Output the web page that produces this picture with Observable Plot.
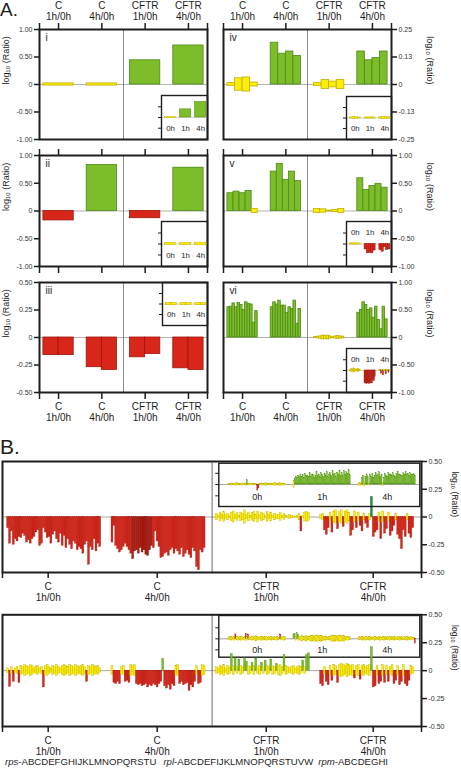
<!DOCTYPE html>
<html><head><meta charset="utf-8">
<script src="https://cdn.jsdelivr.net/npm/d3@7"></script>
<script src="https://cdn.jsdelivr.net/npm/@observablehq/plot@0.6"></script>
<style>
html,body{margin:0;padding:0;background:#fff;}
#page{position:relative;width:461px;height:769px;overflow:hidden;font-family:"Liberation Sans",Arial,Helvetica,sans-serif;color:#1e1e1e;}
#page svg{position:absolute;left:0;top:0;}
.big{position:absolute;left:0;line-height:1;}
#genes{position:absolute;left:5px;top:757px;font-size:9.6px;line-height:10px;white-space:nowrap;}
</style></head><body><div id="page"></div>
<script>
// ---------------- DATA ----------------
const categories = ["C\n1h/0h", "C\n4h/0h", "CFTR\n1h/0h", "CFTR\n4h/0h"];
const timepoints = ["0h", "1h", "4h"];
const romans = ["i", "ii", "iii", "iv", "v", "vi"];
const yLabel = "log\u2081\u2080 (Ratio)";
const ticksFull = [1, 0.5, 0, -0.5, -1];
const ticksFullLabels = ["1.00", "0.50", "0", "-0.50", "-1.00"];
const ticksQuarter = [0.25, 0.125, 0, -0.125, -0.25];
const ticksQuarterLabels = ["0.25", "0.13", "0", "-0.13", "-0.25"];
const ticksHalf = [0.5, 0.25, 0, -0.25, -0.5];
const ticksHalfLabels = ["0.50", "0.25", "0", "-0.25", "-0.50"];
const rpsGenes = "ABCDEFGHIJKLMNOPQRSTU";
const rplGenes = "ABCDEFIJKLMNOPQRSTUVW";
const rpmGenes = "ABCDEGHI";

// class codes: r = down (red), R = dark red, g = up (green), G = dark green, y = not significant (yellow, +/- box)
// Panel A (per group: C 1h/0h, C 4h/0h, CFTR 1h/0h, CFTR 4h/0h)
const panelI = [[0.02], [0.02], [0.44], [0.71]];
const panelIClass = ["y", "y", "g", "g"];
const panelII = [[-0.17], [0.83], [-0.13], [0.78]];
const panelIIClass = ["r", "g", "r", "g"];
const panelIII = [[-0.16, -0.16], [-0.27, -0.295], [-0.18, -0.15], [-0.28, -0.295]];
const panelIIIClass = ["rr", "rr", "rr", "rr"];
const panelIV = [[0.006, 0.028, 0.032, 0.009], [0.19, 0.14, 0.15, 0.13], [0.006, 0.02, 0.013, 0.021], [0.15, 0.11, 0.12, 0.15]];
const panelIVClass = ["yyyy", "gggg", "yyyy", "gggg"];
const panelV = [[0.32, 0.35, 0.32, 0.36, 0.036], [0.71, 0.85, 0.56, 0.71, 0.54], [0.035, 0.03, 0.008, 0.02, 0.035], [0.59, 0.38, 0.45, 0.49, 0.42]];
const panelVClass = ["ggggy", "ggggg", "yyyyy", "ggggg"];
const panelVI = [
  [0.55, 0.56, 0.62, 0.55, 0.63, 0.59, 0.50, 0.64, 0.61, 0.60, 0.27, 0.48],
  [0.55, 0.64, 0.60, 0.67, 0.58, 0.58, 0.45, 0.55, 0.52, 0.67, 0.25, 0.52],
  [0.01, 0.015, 0.02, 0.035, 0.03, 0.035, 0.02, 0.005, 0.02, 0.025, 0.02, 0.015],
  [0.45, 0.50, 0.64, 0.59, 0.50, 0.53, 0.36, 0.56, 0.32, 0.15, 0.56, 0.33]];
const panelVIClass = ["gggggggggggg", "gggggggggggg", "yyyyyyyyyyyy", "gggggggggggg"];

// Insets of panel A (0h, 1h, 4h), arbitrary units
const insetI = [[0.05], [0.76], [1.45]];
const insetIClass = ["y", "g", "g"];
const insetII = [[0.1], [0.1], [0.12]];
const insetIIClass = ["y", "y", "y"];
const insetIII = [[0.12, 0.12], [0.12, 0.1], [0.12, 0.12]];
const insetIIIClass = ["yy", "yy", "yy"];
const insetIV = [[0.05, 0.08, 0.08, 0.05], [0.05, 0.06, 0.06, 0.05], [0.08, 0.1, 0.1, 0.08]];
const insetIVClass = ["yyyy", "yyyy", "yyyy"];
const insetV = [[0.05, 0.06, 0.06, 0.05, 0.05], [-0.5, -0.85, -0.8, -0.85, -0.6], [-0.55, -0.7, -0.3, -0.55, -0.5]];
const insetVClass = ["yyyyy", "rrrrr", "rrrrr"];
const insetVI = [
  [0.05, 0.1, 0.15, 0.1, 0.2, 0.15, 0.1, 0.05, 0.1, 0.15, 0.1, 0.05],
  [-1.2, -1.2, -1.25, -1.2, -1.2, -1.25, -1.2, -1.15, -1.2, -0.9, -1.0, -0.6],
  [0.05, 0.08, -0.3, 0.05, -0.45, 0.06, 0.05, -0.35, 0.05, 0.06, -0.2, 0.05]];
const insetVIClass = ["yyyyyyyyyyyy", "rrrrrrrrrrrr", "yyryryyryyry"];

// Panel B, upper chart (50 genes per group)
const bTopC1h = [-0.10,-0.24,-0.13,-0.25,-0.20,-0.22,-0.18,-0.19,-0.15,-0.17,
  -0.23,-0.21,-0.24,-0.20,-0.18,-0.14,-0.12,-0.26,-0.24,-0.10,
  -0.14,-0.19,-0.18,-0.24,-0.16,-0.13,-0.20,-0.23,-0.15,-0.26,
  -0.17,-0.28,-0.20,-0.25,-0.29,-0.22,-0.24,-0.30,-0.27,-0.29,
  -0.33,-0.25,-0.22,-0.43,-0.27,-0.30,-0.20,-0.31,-0.24,-0.27];
const bTopC1hClass = "rrrrrrrrrr rrrrrrrrrr rrrrrrrrrr rrrrrrrrrr rrrrrrrrrr";
const bTopC4h = [-0.23,-0.08,-0.26,-0.29,-0.32,-0.30,-0.27,-0.24,-0.27,-0.30,
  -0.33,-0.38,-0.31,-0.30,-0.33,-0.28,-0.32,-0.30,-0.34,-0.35,
  -0.30,-0.26,-0.28,-0.13,-0.22,-0.27,-0.37,-0.36,-0.33,-0.32,
  -0.35,-0.30,-0.28,-0.33,-0.29,-0.31,-0.34,-0.28,-0.36,-0.33,
  -0.30,-0.34,-0.37,-0.28,-0.31,-0.45,-0.48,-0.30,-0.32,-0.28];
const bTopC4hClass = "rrrrrrrrrr rRRRRRRRRR RRrrrrrrrr rrrrrrrrrr rrrrrrrrrr";
const bTopCFTR1h = [0.03,0.01,0.04,0.02,0.045,0.015,0.03,0.01,0.04,0.05,
  0.02,0.035,0.01,0.04,0.03,0.06,0.02,0.04,0.01,0.035,
  0.045,0.02,0.05,0.015,0.04,0.03,0.01,0.045,0.02,0.04,
  0.01,0.03,0.015,0.02,0.035,0.01,0.025,0.01,0.005,0.02,
  0.01,0.005,0.005,0.01,0.03,-0.13,0.01,0.04,0.045,0.035];
const bTopCFTR1hClass = "yyyyyyyyyy yyyyyyyyyy yyyyyyyyyy yyyyyyyyyy yyyyyryyyy";
const bTopCFTR4h = [0.02,0.03,-0.12,-0.16,-0.10,0.04,-0.14,0.05,0.06,-0.11,
  0.05,0.06,-0.09,0.05,0.06,0.04,-0.17,-0.12,0.05,-0.10,
  0.04,-0.08,-0.13,0.03,-0.06,-0.10,0.03,0.18,-0.18,-0.14,
  -0.12,0.04,-0.20,0.05,-0.15,-0.11,0.04,-0.17,-0.13,-0.08,
  0.03,-0.16,-0.20,-0.29,-0.12,-0.18,0.03,-0.15,-0.19,-0.10];
const bTopCFTR4hClass = "yyrrryryyr yyryyyrryr yrryrryGrr ryryrryrrr yrrrrryrrr";
// inset of upper chart (0h, 1h, 4h)
const bTopInset0h = [0.05,0.08,0.05,0.1,0.06,0.05,0.08,0.12,0.06,0.05,
  0.08,0.05,0.1,0.06,0.05,0.1,0.4,0.08,0.05,0.06,
  0.1,0.05,0.08,0.06,0.05,-0.55,-0.35,0.08,0.05,0.1,
  0.06,0.05,0.1,0.12,0.08,0.05,0.06,0.1,0.05,0.08,
  0.12,0.1,0.06,0.08,0.1,0.12,0.08,0.1,0.06,0.05];
const bTopInset0hClass = "yyyyyyyyyy yyyyyygyyy yyyyyrryyy yyyyyyyyyy yyyyyyyyyy";
const bTopInset1h = [0.3,0.55,0.7,0.6,0.8,0.65,0.9,0.7,0.85,0.6,
  0.95,0.75,0.8,0.65,1.0,0.7,0.85,0.9,0.6,0.8,
  1.1,0.75,0.9,0.7,1.0,0.85,0.65,0.95,0.8,1.15,
  0.7,0.9,1.0,0.75,1.2,0.85,0.95,0.7,1.05,0.9,
  1.25,0.8,1.0,0.75,1.2,0.9,1.1,0.95,1.3,0.85];
const bTopInset1hClass = "yggggggggg gggggggggg gggggggggg gggggggggg gggggggggg";
const bTopInset4h = [0.1,0.15,0.1,0.6,0.8,0.2,0.7,0.9,0.65,0.1,
  0.85,0.7,0.95,0.6,0.8,1.0,0.75,0.9,1.1,0.7,
  0.85,0.15,0.6,0.95,0.8,0.7,1.05,0.85,0.9,0.75,
  1.0,0.8,0.7,0.95,1.15,0.85,0.9,0.8,0.75,1.0,
  0.9,1.1,0.85,0.95,0.8,1.0,0.9,0.85,0.95,0.8];
const bTopInset4hClass = "yyyggygggy gggggggggg gygggggggg gggggggggg gggggggggg";

// Panel B, lower chart
const bBotC1h = [0.02,-0.145,0.03,-0.10,0.02,0.03,-0.11,0.04,0.03,0.05,
  0.04,0.03,0.05,0.04,0.02,0.03,0.04,0.02,0.03,-0.15,
  0.04,0.05,0.03,0.02,0.04,0.03,0.05,0.03,0.02,0.04,
  0.05,0.04,0.03,0.05,0.04,0.03,0.05,0.04,0.03,0.04,
  0.05,0.03,-0.10,0.04,0.03,0.05,0.04,0.03,0.04,0.02];
const bBotC1hClass = "yryryyryyy yyyyyyyyyr yyyyyyyyyy yyyyyyyyyy yyryyyyyyy";
const bBotC4h = [0.04,-0.11,-0.12,-0.10,-0.12,0.03,0.04,-0.10,-0.09,-0.11,
  0.05,0.04,0.05,-0.12,-0.13,-0.12,-0.14,-0.13,-0.12,-0.15,
  -0.13,-0.14,-0.12,-0.13,-0.15,-0.12,-0.10,0.105,-0.14,-0.16,
  -0.13,-0.17,-0.12,-0.14,0.04,0.05,-0.12,-0.10,-0.13,-0.12,
  -0.11,-0.18,-0.13,-0.15,-0.10,0.04,-0.12,-0.11,0.05,0.04];
const bBotC4hClass = "yrrrryyrrr yyyrrrrrrr rrrrrrrgrr rrrryyrrrr rrrrryrryy";
const bBotCFTR1h = [0.03,0.02,0.04,0.03,0.05,0.02,0.04,0.03,0.15,0.04,
  0.11,0.03,0.10,0.04,0.03,0.11,0.08,0.04,0.03,0.07,
  0.04,0.11,0.03,0.04,0.07,0.03,0.09,0.04,0.03,0.10,
  0.04,0.03,0.06,0.04,0.05,0.03,0.14,0.04,0.03,0.02,
  0.03,0.04,0.02,0.03,0.04,0.03,0.09,0.03,0.14,0.155];
const bBotCFTR1hClass = "yyyyyyyygy gygyyggyyg ygyygygyyg yygyyygyyy yyyyyygygg";
const bBotCFTR4h = [-0.12,-0.14,0.03,-0.10,-0.13,0.04,-0.09,0.05,0.04,-0.11,
  0.05,0.06,0.05,0.04,0.06,0.05,0.04,0.05,-0.07,0.04,
  0.05,-0.08,0.04,0.05,0.03,0.04,0.05,0.21,-0.15,-0.14,
  0.04,-0.12,-0.10,0.05,-0.11,0.04,-0.10,0.03,0.05,-0.12,
  -0.09,0.04,-0.13,-0.10,0.05,-0.12,-0.14,-0.09,0.04,0.03];
const bBotCFTR4hClass = "rryrryryyr yyyyyyyyry yryyyyygrr yrryryryyr ryrryrrryy";
const bBotInset0h = [0.1,0.15,0.2,0.15,0.1,0.2,0.4,0.15,0.2,0.1,
  0.15,0.2,0.15,0.1,0.2,0.45,0.2,0.4,0.15,0.1,
  0.2,0.15,0.1,0.2,0.25,0.2,0.15,0.1,0.2,0.15,
  0.2,0.1,0.15,0.2,0.1,0.15,0.1,0.2,0.15,0.1,
  0.15,0.1,0.2,0.15,0.1,0.4,0.15,0.1,0.2,0.15];
const bBotInset0hClass = "yyyyyyryyy yyyyyryryy yyyyyyyyyy yyyyyyyyyy yyyyyryyyy";
const bBotInset1h = [0.4,0.45,0.2,0.5,0.35,0.2,0.15,0.25,0.2,0.15,
  0.2,0.25,0.2,0.15,0.2,0.25,0.3,0.25,0.2,0.3,
  0.25,0.3,0.2,0.25,0.3,0.25,0.2,0.15,0.2,0.15,
  0.1,0.15,0.2,0.25,0.3,0.25,0.3,0.25,0.2,0.25,
  0.3,0.25,0.2,0.25,0.3,0.2,0.15,0.2,0.1,0.15];
const bBotInset1hClass = "ggyggyyyyy yyyyyyyyyy yyyyyyyyyy yyyyyyyyyy yyyyyyyyyy";
const bBotInset4h = [0.1,0.15,0.1,0.2,0.15,0.1,0.2,0.15,0.1,0.15,
  0.2,0.1,0.15,0.1,0.2,0.15,0.1,0.1,0.15,0.2,
  0.1,0.15,0.2,0.1,0.15,0.1,0.15,0.2,0.1,0.15,
  0.1,0.2,0.15,0.1,0.15,0.1,0.2,0.1,0.15,0.1,
  0.15,0.1,0.2,0.15,0.1,0.1,0.15,0.1,0.1,-0.45];
const bBotInset4hClass = "yyyyyyyyyy yyyyyyyyyy yyyyyyyyyy yyyyyyyyyy yyyyyyyyyr";

// ---------------- STYLE / LAYOUT ----------------
const W = 461, H = 769;
const INK = "#1e1e1e";
const FONT = '"Liberation Sans", Arial, Helvetica, sans-serif';
const COLORS = {
  r: {fill: "#d8261b", stroke: "#9e140b"},
  R: {fill: "#ad1a10", stroke: "#7a0d06"},
  g: {fill: "#7dbd2a", stroke: "#4d8a17"},
  G: {fill: "#1f8b3f", stroke: "#12652b"},
  y: {fill: "#fcee0a", stroke: "#bfae00"}
};
const page = document.getElementById("page");
const clean = s => s.replace(/\s/g, "");

function bar(x1, x2, v, c) {
  return c === "y" ? {x1, x2, y1: -Math.abs(v), y2: Math.abs(v), c} : {x1, x2, y1: 0, y2: v, c};
}
function groupedBars(groupVals, groupCls, width, offset) {
  const out = [];
  groupVals.forEach((arr, g) => {
    const w = width / arr.length;
    arr.forEach((v, j) => {
      const x1 = g + offset - width / 2 + j * w;
      out.push(bar(x1, x1 + w, v, groupCls[g][j]));
    });
  });
  return out;
}
function seriesBars(series, classes, start) {
  const cl = clean(classes);
  return series.map((v, j) => bar(start + j, start + j + 1, v, cl[j]));
}
function rects(data, sw) {
  return Plot.rect(data, {x1: "x1", x2: "x2", y1: "y1", y2: "y2",
    fill: d => COLORS[d.c].fill, stroke: d => COLORS[d.c].stroke, strokeWidth: sw});
}
function yAxis(anchor, ticks, labels, size) {
  const m = new Map(ticks.map((t, i) => [t, labels[i]]));
  return Plot.axisY({anchor, ticks, tickFormat: d => m.get(d) ?? "", tickSize: size ?? 5,
    tickPadding: 2, fontSize: 7, strokeWidth: 1.5, label: null, fill: "#333"});
}
function draw(box, xDomain, yDomain, marks, xAxisNull) {
  const svg = Plot.plot({
    width: W, height: H,
    marginLeft: box[0], marginRight: W - box[1], marginTop: box[2], marginBottom: H - box[3],
    x: {domain: xDomain, label: null, ...(xAxisNull ? {axis: null} : {})},
    y: {domain: yDomain, label: null},
    color: {type: "identity"},
    style: {background: "transparent", overflow: "visible", fontFamily: FONT, fontSize: "7px", color: INK},
    marks
  });
  page.appendChild(svg);
}

// ---------------- PANEL A ----------------
const AX = [-0.44, 3.44];
const catMap = new Map(categories.map((c, i) => [i, c]));
function panelA({box, yDomain, yTicks, yLabels, side, vals, cls, roman, top, bottom}) {
  const xt = [AX[0], 0, 1, 2, 3, AX[1]];
  const marks = [
    Plot.ruleY([0], {stroke: "#b3b3b3", strokeWidth: 1}),
    Plot.ruleX([1.5], {stroke: "#8c8c8c", strokeWidth: 1}),
    rects(groupedBars(vals, cls, 0.7, 0), 0.8),
    Plot.frame({stroke: INK, strokeWidth: 2}),
    yAxis(side, yTicks, yLabels),
    Plot.text([roman], {text: d => d, frameAnchor: "top-left", dx: 6, dy: 4, fontSize: 10, fill: INK}),
    Plot.text([yLabel], {text: d => d, frameAnchor: side, dx: side === "left" ? -33 : 38,
      rotate: side === "left" ? -90 : 90, fontSize: 9, fill: INK})
  ];
  if (top) marks.push(Plot.axisX({anchor: "top", ticks: xt,
    tickFormat: d => top === "labels" ? (catMap.get(d) ?? "") : "",
    tickSize: 7, tickPadding: 3, fontSize: 10, lineHeight: 1.05, strokeWidth: 1.5, label: null}));
  if (bottom) marks.push(Plot.axisX({anchor: "bottom", ticks: xt,
    tickFormat: d => bottom === "labels" ? (catMap.get(d) ?? "") : "",
    tickSize: 7, tickPadding: 3, fontSize: 10, lineHeight: 1.1, strokeWidth: 1.5, label: null}));
  draw(box, AX, yDomain, marks);
}
function insetA({box, vals, cls, labels}) {
  const marks = [
    Plot.ruleY([0], {stroke: "#c8c8c8", strokeWidth: 0.8}),
    rects(groupedBars(vals, cls, 0.75, 0.55), 0.5),
    Plot.frame({stroke: INK, strokeWidth: 1.4}),
    Plot.axisY({anchor: "left", ticks: [-1, 0, 1], tickFormat: () => "", tickSize: 3, strokeWidth: 1, label: null}),
    Plot.text(timepoints, {x: (d, i) => i + 0.55, text: d => d, frameAnchor: labels,
      lineAnchor: "middle", dy: labels === "bottom" ? -11 : 11, fontSize: 7.8, fill: INK})
  ];
  draw(box, [-0.05, 3], [-2.05, 2.05], marks, true);
}

const L = [39, 207], R = [223, 391];
const R1 = [29, 139], R2 = [155, 266], R3 = [282, 392];
panelA({box: [...L, ...R1], yDomain: [-1, 1], yTicks: ticksFull, yLabels: ticksFullLabels, side: "left",
  vals: panelI, cls: panelIClass, roman: romans[0], top: "labels"});
panelA({box: [...L, ...R2], yDomain: [-1, 1], yTicks: ticksFull, yLabels: ticksFullLabels, side: "left",
  vals: panelII, cls: panelIIClass, roman: romans[1], top: "ticks", bottom: "ticks"});
panelA({box: [...L, ...R3], yDomain: [-0.5, 0.5], yTicks: ticksHalf, yLabels: ticksHalfLabels, side: "left",
  vals: panelIII, cls: panelIIIClass, roman: romans[2], bottom: "labels"});
panelA({box: [...R, ...R1], yDomain: [-0.25, 0.25], yTicks: ticksQuarter, yLabels: ticksQuarterLabels, side: "right",
  vals: panelIV, cls: panelIVClass, roman: romans[3], top: "labels"});
panelA({box: [...R, ...R2], yDomain: [-1, 1], yTicks: ticksFull, yLabels: ticksFullLabels, side: "right",
  vals: panelV, cls: panelVClass, roman: romans[4], top: "ticks", bottom: "ticks"});
panelA({box: [...R, ...R3], yDomain: [-1, 1], yTicks: ticksFull, yLabels: ticksFullLabels, side: "right",
  vals: panelVI, cls: panelVIClass, roman: romans[5], bottom: "labels"});

insetA({box: [161, 207, 95, 139], vals: insetI, cls: insetIClass, labels: "bottom"});
insetA({box: [161, 207, 221, 266], vals: insetII, cls: insetIIClass, labels: "bottom"});
insetA({box: [162, 207, 282, 325], vals: insetIII, cls: insetIIIClass, labels: "bottom"});
insetA({box: [346, 391, 96, 139], vals: insetIV, cls: insetIVClass, labels: "bottom"});
insetA({box: [346, 391, 221, 266], vals: insetV, cls: insetVClass, labels: "top"});
insetA({box: [346, 391, 348, 392], vals: insetVI, cls: insetVIClass, labels: "top"});

// ---------------- PANEL B ----------------
const BX = [0, 222.9];
const bGroupStart = g => 2.5 + 55.5 * g;
const bTickPos = [24.3, 82.3, 140.3, 197.2];
const bTickMap = new Map(bTickPos.map((p, i) => [p, categories[i]]));
const BIX = [0, 175];
const bInsetStart = g => 8.4 + 56.6 * g;

function chartB({box, series, classes}) {
  const data = series.flatMap((s, g) => seriesBars(s, classes[g], bGroupStart(g)));
  const marks = [
    Plot.ruleY([0], {stroke: "#a8a8a8", strokeWidth: 1}),
    Plot.ruleX([111.5], {stroke: "#6a6a6a", strokeWidth: 1}),
    rects(data, 0.35),
    Plot.frame({stroke: INK, strokeWidth: 2}),
    yAxis("right", ticksHalf, ticksHalfLabels),
    Plot.axisX({anchor: "bottom", ticks: [BX[0], ...bTickPos, BX[1]], tickFormat: d => bTickMap.get(d) ?? "",
      tickSize: 6, tickPadding: 3, fontSize: 10, lineHeight: 1.15, strokeWidth: 1.5, label: null}),
    Plot.text([yLabel], {text: d => d, frameAnchor: "right", dx: 33, rotate: 90, fontSize: 8.5, fill: INK})
  ];
  draw(box, BX, [-0.5, 0.5], marks);
}
function insetB({box, yDomain, series, classes, labelDy}) {
  const data = series.flatMap((s, g) => seriesBars(s, classes[g], bInsetStart(g)));
  const marks = [
    Plot.ruleY([0], {stroke: "#8a8a8a", strokeWidth: 0.8}),
    rects(data, 0.25),
    Plot.frame({stroke: INK, strokeWidth: 1.4}),
    Plot.axisY({anchor: "left", ticks: [-1, 0, 1], tickFormat: () => "", tickSize: 3, strokeWidth: 1, label: null}),
    Plot.text(timepoints, {x: (d, i) => bInsetStart(i) + 25, text: d => d, frameAnchor: "bottom",
      lineAnchor: "middle", dy: labelDy, fontSize: 9, fill: INK})
  ];
  draw(box, BIX, yDomain, marks, true);
}

chartB({box: [2, 421, 461, 572],
  series: [bTopC1h, bTopC4h, bTopCFTR1h, bTopCFTR4h],
  classes: [bTopC1hClass, bTopC4hClass, bTopCFTR1hClass, bTopCFTR4hClass]});
insetB({box: [218.3, 419.3, 462.7, 506], yDomain: [-1.95, 1.9],
  series: [bTopInset0h, bTopInset1h, bTopInset4h],
  classes: [bTopInset0hClass, bTopInset1hClass, bTopInset4hClass], labelDy: -9.3});

insetB({box: [218.3, 419.3, 615, 656.7], yDomain: [-1.67, 2.12],
  series: [bBotInset0h, bBotInset1h, bBotInset4h],
  classes: [bBotInset0hClass, bBotInset1hClass, bBotInset4hClass], labelDy: -6.7});
chartB({box: [2, 421, 614.3, 726],
  series: [bBotC1h, bBotC4h, bBotCFTR1h, bBotCFTR4h],
  classes: [bBotC1hClass, bBotC4hClass, bBotCFTR1hClass, bBotCFTR4hClass]});

// ---------------- HTML TEXT ----------------
function addDiv(cls, css, html) {
  const d = document.createElement("div");
  if (cls) d.className = cls;
  Object.assign(d.style, css);
  d.innerHTML = html;
  page.appendChild(d);
  return d;
}
addDiv("big", {top: "0px", fontSize: "19px"}, "A.");
addDiv("big", {top: "436px", fontSize: "21px"}, "B.");
const genes = addDiv("", {}, "");
genes.id = "genes";
genes.innerHTML = `<i>rps</i>-${rpsGenes}<span style="margin-left:7px"><i>rpl</i>-${rplGenes}</span><span style="margin-left:5px"><i>rpm</i>-${rpmGenes}</span>`;
</script></body></html>
